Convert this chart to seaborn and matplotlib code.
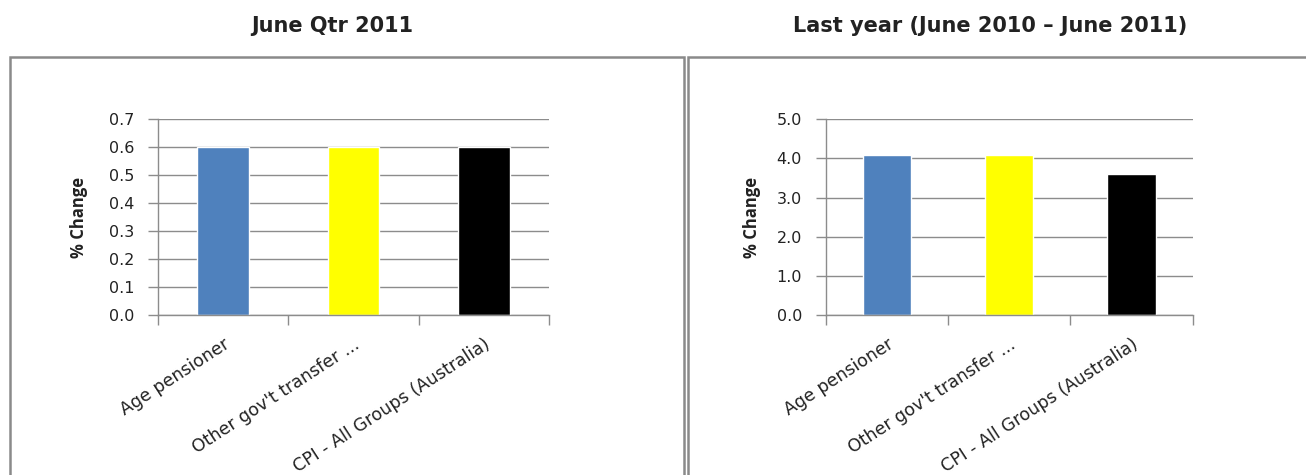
import numpy as np
import matplotlib.pyplot as plt
import matplotlib.patches as patches
from matplotlib.ticker import FormatStrFormatter, FixedLocator
import pandas as pd
import seaborn as sns

# data
categories = ['Age pensioner', "Other gov't transfer ...", 'CPI - All Groups (Australia)']
qtr_change = [0.6, 0.6, 0.6]
year_change = [4.1, 4.1, 3.6]
bar_colors = ['#4f81bd', '#ffff00', '#000000']
titles = ['June Qtr 2011', 'Last year (June 2010 \u2013 June 2011)']

sns.set_style('white')
plt.rcParams['font.family'] = ['DejaVu Sans']

W, H = 1306, 475
fig = plt.figure(figsize=(W / 100, H / 100), dpi=100)

grid_col = '#8c8c8c'
text_col = '#222222'

# panel frames (pixel boxes)
for x0, x1 in [(10, 684), (688, 1312)]:
    rect = patches.Rectangle((x0 / W, -0.01), (x1 - x0) / W, 1 - 57 / H + 0.01,
                             transform=fig.transFigure, fill=False,
                             edgecolor='#8a8a8a', linewidth=1.8)
    fig.add_artist(rect)

def draw_panel(rect, values, ymax, step, title, title_x, label_x):
    ax = fig.add_axes(rect)
    df = pd.DataFrame({'cat': categories, 'val': values})
    sns.barplot(data=df, x='cat', y='val', hue='cat', palette=bar_colors,
                width=0.395, legend=False, ax=ax, saturation=1)
    ax.set_xlim(-0.5, 2.5)
    ax.set_ylim(0, ymax)
    ax.yaxis.set_major_locator(FixedLocator(np.arange(0, ymax + step / 2, step)))
    ax.yaxis.set_major_formatter(FormatStrFormatter('%.1f'))
    ax.grid(axis='y', color=grid_col, linewidth=1)
    ax.set_axisbelow(True)
    for s in ['top', 'right']:
        ax.spines[s].set_visible(False)
    for s in ['left', 'bottom']:
        ax.spines[s].set_color(grid_col)
        ax.spines[s].set_linewidth(1)
    ax.tick_params(axis='y', left=True, length=7, width=1, color=grid_col,
                   labelsize=11.5, labelcolor=text_col, pad=10)
    # category labels, with tick marks on the category boundaries
    ax.set_xticks([0, 1, 2])
    ax.set_xticklabels(categories, rotation=33, ha='right', rotation_mode='anchor',
                       fontsize=12.5, color=text_col)
    ax.tick_params(axis='x', bottom=False, pad=11)
    ax.set_xticks([-0.5, 0.5, 1.5, 2.5], minor=True)
    ax.tick_params(axis='x', which='minor', bottom=True, length=7, width=1,
                   color=grid_col)
    ax.set_xlabel('')
    ax.set_ylabel('% Change', fontsize=12, fontweight='bold', color=text_col,
                  family=['Open Sans', 'DejaVu Sans'])
    ax.yaxis.set_label_coords(label_x, 0.5)
    fig.text(title_x / W, 1 - 26 / H, title, ha='center', va='center',
             fontsize=15, fontweight='bold', color=text_col)
    return ax

draw_panel([157.7 / W, 1 - 315 / H, (549 - 157.7) / W, (315 - 119.3) / H],
           qtr_change, 0.7, 0.1, titles[0], 332, -0.178)
draw_panel([825.7 / W, 1 - 315 / H, (1192.7 - 825.7) / W, (315 - 119.3) / H],
           year_change, 5.0, 1.0, titles[1], 990, -0.176)

fig.savefig('out.png', dpi=100)
